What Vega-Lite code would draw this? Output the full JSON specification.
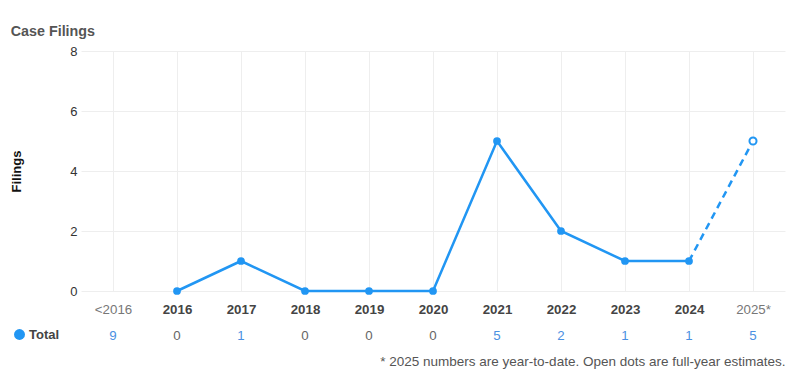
{
  "$schema": "https://vega.github.io/schema/vega-lite/v6.json",
  "padding": {"left": 10, "top": 24, "right": 16, "bottom": 4},
  "background": "#ffffff",
  "title": {"text": "Case Filings", "anchor": "start", "fontSize": 14.3, "fontWeight": "bold", "color": "#555555", "font": "Liberation Sans", "offset": 6},
  "config": {
    "view": {"stroke": null},
    "font": "Liberation Sans",
    "axis": {"labelFont": "Liberation Sans", "titleFont": "Liberation Sans"}
  },
  "datasets": {
    "filings": [
      {"year": "<2016", "total": 9, "filings": null},
      {"year": "2016", "total": 0, "filings": 0},
      {"year": "2017", "total": 1, "filings": 1},
      {"year": "2018", "total": 0, "filings": 0},
      {"year": "2019", "total": 0, "filings": 0},
      {"year": "2020", "total": 0, "filings": 0},
      {"year": "2021", "total": 5, "filings": 5},
      {"year": "2022", "total": 2, "filings": 2},
      {"year": "2023", "total": 1, "filings": 1},
      {"year": "2024", "total": 1, "filings": 1},
      {"year": "2025*", "total": 5, "filings": 5}
    ]
  },
  "vconcat": [
    {
      "width": 704,
      "height": 240,
      "data": {"name": "filings"},
      "encoding": {
        "x": {
          "field": "year", "type": "ordinal", "sort": null,
          "scale": {"type": "point", "padding": 0.5, "domain": ["<2016", "2016", "2017", "2018", "2019", "2020", "2021", "2022", "2023", "2024", "2025*"]},
          "axis": {
            "title": null, "domain": false, "ticks": false, "grid": true, "gridColor": "#eeeeee",
            "labelAngle": 0, "labelFontSize": 13.3, "labelPadding": 11,
            "labelFontWeight": {"expr": "datum.value == '<2016' || datum.value == '2025*' ? 'normal' : 'bold'"},
            "labelColor": {"expr": "datum.value == '<2016' || datum.value == '2025*' ? '#777777' : '#444444'"}
          }
        },
        "y": {
          "field": "filings", "type": "quantitative",
          "scale": {"domain": [0, 8]},
          "axis": {
            "title": "Filings", "titleFontSize": 13, "titleFontWeight": "bold", "titleColor": "#111111", "titlePadding": 46,
            "values": [0, 2, 4, 6, 8], "domain": false, "ticks": false, "labelPadding": 4,
            "labelFontSize": 13, "labelColor": "#333333", "gridColor": "#eeeeee"
          }
        }
      },
      "layer": [
        {
          "transform": [{"filter": "datum.year != '<2016' && datum.year != '2025*'"}],
          "mark": {"type": "line", "color": "#2196F3", "strokeWidth": 2.5}
        },
        {
          "transform": [{"filter": "datum.year == '2024' || datum.year == '2025*'"}],
          "mark": {"type": "line", "color": "#2196F3", "strokeWidth": 2.5, "strokeDash": [7, 5]}
        },
        {
          "transform": [{"filter": "datum.year != '<2016' && datum.year != '2025*'"}],
          "mark": {"type": "point", "filled": true, "size": 60, "opacity": 1},
          "encoding": {
            "color": {
              "datum": "Total",
              "scale": {"range": ["#2196F3"]},
              "legend": {
                "title": null, "orient": "none", "legendX": -68, "legendY": 277,
                "symbolType": "circle", "symbolSize": 120, "symbolFillColor": "#2196F3", "symbolStrokeWidth": 0,
                "labelFontSize": 13, "labelFontWeight": "bold", "labelColor": "#444444", "labelOffset": 3
              }
            }
          }
        },
        {
          "transform": [{"filter": "datum.year == '2025*'"}],
          "mark": {"type": "point", "filled": false, "size": 50, "color": "#2196F3", "strokeWidth": 2, "fill": "#ffffff", "opacity": 1}
        }
      ]
    },
    {
      "width": 704,
      "height": 20,
      "data": {"name": "filings"},
      "mark": {"type": "text", "fontSize": 13.3, "font": "Liberation Sans"},
      "encoding": {
        "x": {
          "field": "year", "type": "ordinal", "sort": null,
          "scale": {"type": "point", "padding": 0.5, "domain": ["<2016", "2016", "2017", "2018", "2019", "2020", "2021", "2022", "2023", "2024", "2025*"]},
          "axis": {
            "labels": false, "ticks": false, "domain": false, "grid": false,
            "title": "* 2025 numbers are year-to-date. Open dots are full-year estimates.",
            "titleAnchor": "end", "titleFontSize": 13.5, "titleFontWeight": "normal", "titleColor": "#555555", "titlePadding": 8
          }
        },
        "text": {"field": "total", "type": "quantitative"},
        "color": {
          "condition": {"test": "datum.total > 0", "value": "#4a90e2"},
          "value": "#666666"
        }
      }
    }
  ],
  "spacing": 10
}
